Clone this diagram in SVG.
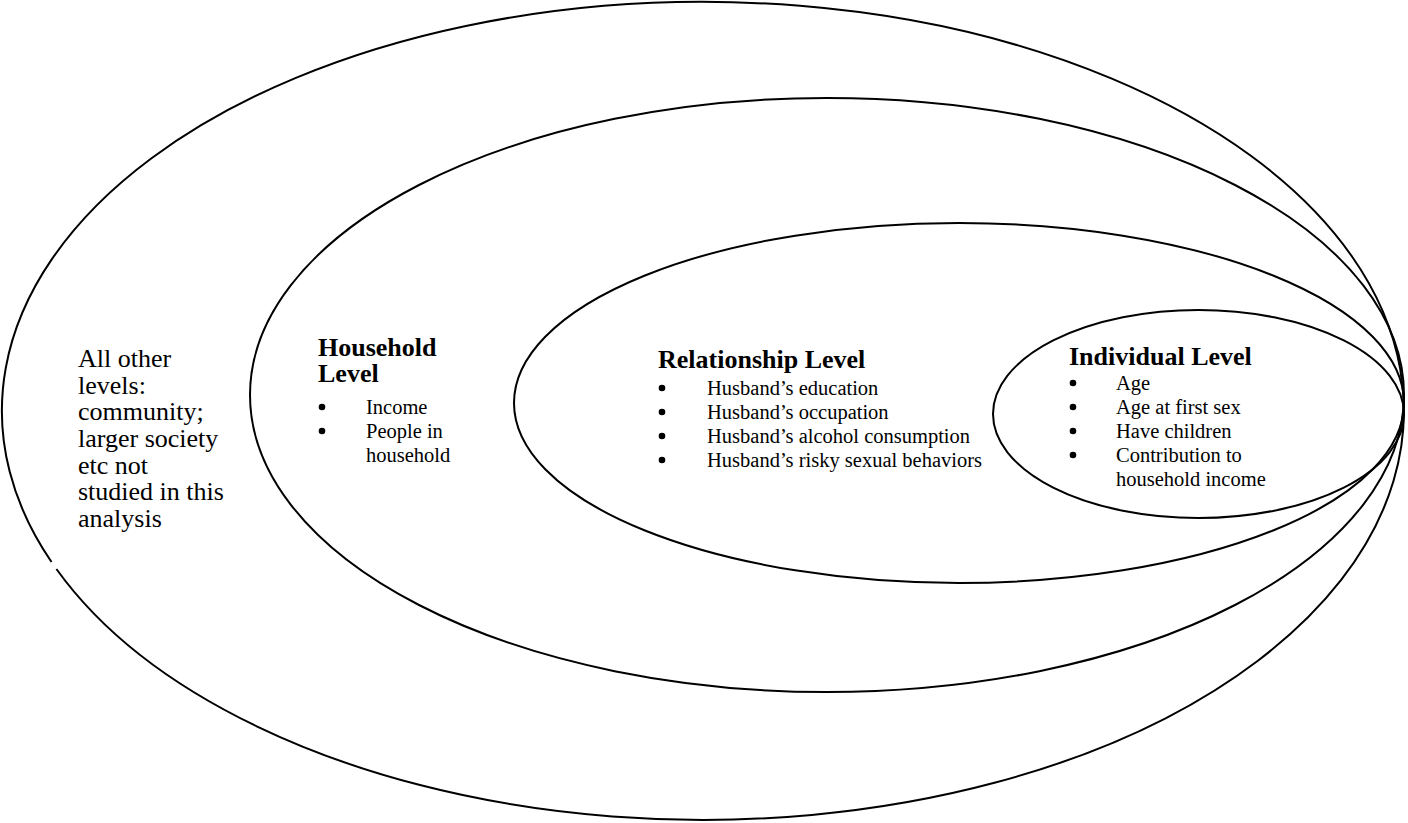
<svg xmlns="http://www.w3.org/2000/svg" width="1408" height="823" viewBox="0 0 1408 823">
<style>
.ring{fill:none;stroke:#000;stroke-width:2}
.t{font-family:"Liberation Serif","Times New Roman",serif;fill:#000}
.big{font-size:26px}
.hd{font-size:26px;font-weight:bold}
.it{font-size:20.5px}
.dot{fill:#000}
</style>
<rect width="1408" height="823" fill="#fff"/>
<g id="outer">
<path class="ring" d="M 56.4 569 A 701 409 0 1 0 51.5 562"/>
<text class="t big" x="78" y="367">All other</text>
<text class="t big" x="78" y="394">levels:</text>
<text class="t big" x="78" y="420">community;</text>
<text class="t big" x="78" y="447">larger society</text>
<text class="t big" x="78" y="474">etc not</text>
<text class="t big" x="78" y="500">studied in this</text>
<text class="t big" x="78" y="527">analysis</text>
</g>
<g id="household">
<ellipse class="ring" cx="827" cy="395" rx="577" ry="297"/>
<text class="t hd" x="318" y="356">Household</text>
<text class="t hd" x="318" y="382">Level</text>
<circle class="dot" cx="322" cy="407" r="3.3"/><text class="t it" x="366" y="414">Income</text>
<circle class="dot" cx="322" cy="431" r="3.3"/><text class="t it" x="366" y="438">People in</text>
<text class="t it" x="366" y="462">household</text>
</g>
<g id="relationship">
<ellipse class="ring" cx="959" cy="403" rx="445" ry="180"/>
<text class="t hd" x="658" y="368">Relationship Level</text>
<circle class="dot" cx="662" cy="388" r="3.3"/><text class="t it" x="707" y="395">Husband’s education</text>
<circle class="dot" cx="662" cy="412" r="3.3"/><text class="t it" x="707" y="419">Husband’s occupation</text>
<circle class="dot" cx="662" cy="436" r="3.3"/><text class="t it" x="707" y="443">Husband’s alcohol consumption</text>
<circle class="dot" cx="662" cy="460" r="3.3"/><text class="t it" x="707" y="467">Husband’s risky sexual behaviors</text>
</g>
<g id="individual">
<ellipse class="ring" cx="1198.5" cy="414" rx="205.5" ry="104"/>
<text class="t hd" x="1069" y="365">Individual Level</text>
<circle class="dot" cx="1073" cy="383" r="3.3"/><text class="t it" x="1116" y="390">Age</text>
<circle class="dot" cx="1073" cy="407" r="3.3"/><text class="t it" x="1116" y="414">Age at first sex</text>
<circle class="dot" cx="1073" cy="431" r="3.3"/><text class="t it" x="1116" y="438">Have children</text>
<circle class="dot" cx="1073" cy="455" r="3.3"/><text class="t it" x="1116" y="462">Contribution to</text>
<text class="t it" x="1116" y="486">household income</text>
</g>
<g id="connectors"></g>
</svg>
